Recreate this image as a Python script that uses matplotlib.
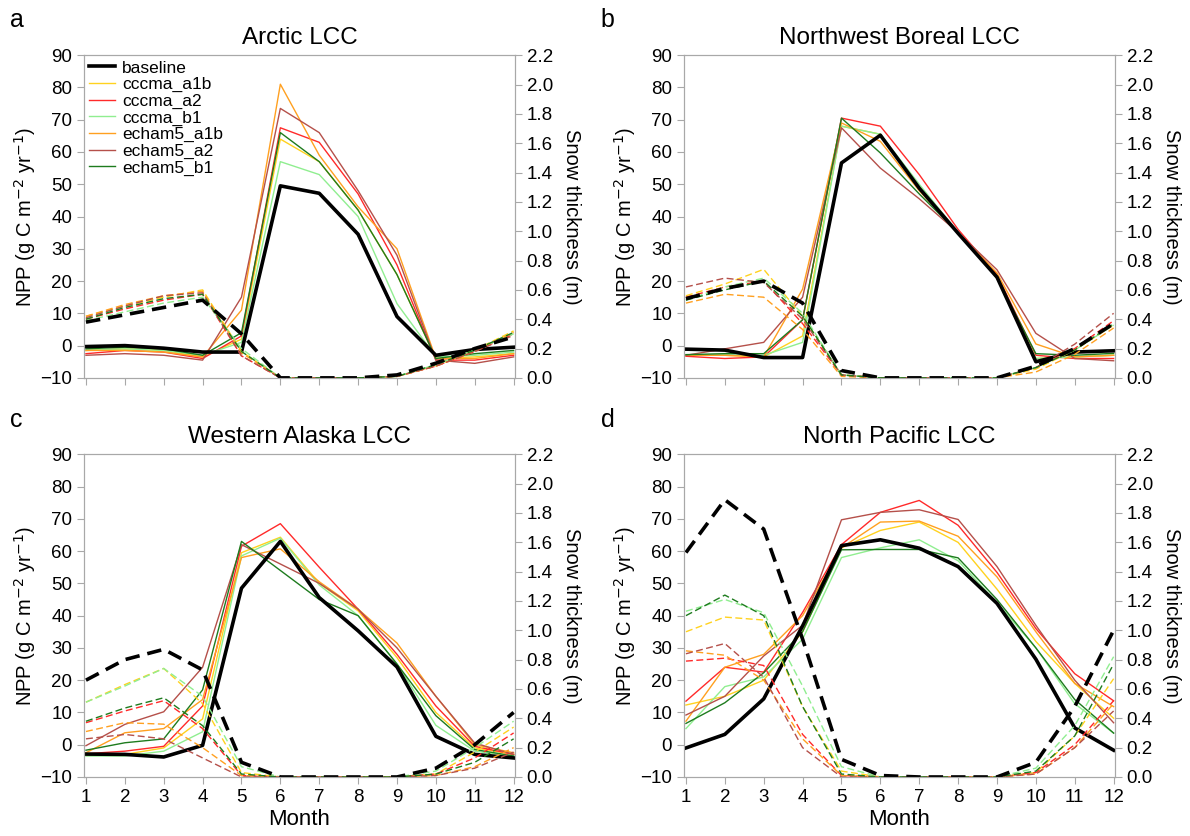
import matplotlib
matplotlib.use('Agg')
import matplotlib.pyplot as plt

plt.rcParams['font.family'] = ['Liberation Sans', 'DejaVu Sans']

months = list(range(1, 13))
scenarios = ['baseline', 'cccma_a1b', 'cccma_a2', 'cccma_b1', 'echam5_a1b', 'echam5_a2', 'echam5_b1']
colors = {'baseline': 'black', 'cccma_a1b': '#FFD21F', 'cccma_a2': '#FF2A2A', 'cccma_b1': '#90EE90',
          'echam5_a1b': '#FFA020', 'echam5_a2': '#B5504A', 'echam5_b1': '#1E7B1E'}

# NPP (g C m-2 yr-1) and snow thickness (m) by month
arctic_npp = {
    'baseline':   [-0.3, 0.0, -0.8, -2.0, -2.0, 49.5, 47.2, 34.5, 9.0, -3.0, -1.2, -0.5],
    'cccma_a1b':  [-1.5, -1.0, -1.5, -3.5, 2.0, 64.0, 57.0, 42.0, 22.0, -4.0, -3.5, -2.5],
    'cccma_a2':   [-2.5, -1.5, -2.0, -4.0, 3.0, 67.5, 63.0, 47.0, 25.0, -4.5, -4.5, -3.0],
    'cccma_b1':   [-1.5, -1.0, -1.5, -3.0, 1.0, 57.0, 53.0, 40.0, 13.0, -3.5, -3.0, -2.0],
    'echam5_a1b': [-1.5, -1.5, -2.0, -3.5, 11.0, 81.0, 59.0, 43.0, 30.0, -4.0, -4.0, -2.5],
    'echam5_a2':  [-3.0, -2.5, -3.0, -4.5, 15.0, 73.5, 66.0, 48.0, 28.0, -4.5, -5.5, -3.5],
    'echam5_b1':  [-1.0, -0.5, -1.0, -3.0, 4.0, 66.0, 57.0, 42.0, 22.0, -4.0, -2.5, -1.5],
}
arctic_snow = {
    'baseline':   [0.38, 0.43, 0.48, 0.53, 0.30, 0.0, 0.0, 0.0, 0.02, 0.10, 0.20, 0.28],
    'cccma_a1b':  [0.42, 0.49, 0.55, 0.60, 0.18, 0.0, 0.0, 0.0, 0.01, 0.08, 0.19, 0.32],
    'cccma_a2':   [0.40, 0.47, 0.53, 0.57, 0.15, 0.0, 0.0, 0.0, 0.01, 0.08, 0.18, 0.30],
    'cccma_b1':   [0.39, 0.45, 0.51, 0.55, 0.20, 0.0, 0.0, 0.0, 0.01, 0.09, 0.19, 0.30],
    'echam5_a1b': [0.42, 0.50, 0.56, 0.59, 0.17, 0.0, 0.0, 0.0, 0.01, 0.08, 0.18, 0.31],
    'echam5_a2':  [0.41, 0.49, 0.56, 0.58, 0.15, 0.0, 0.0, 0.0, 0.01, 0.08, 0.18, 0.29],
    'echam5_b1':  [0.40, 0.48, 0.54, 0.57, 0.18, 0.0, 0.0, 0.0, 0.01, 0.09, 0.19, 0.31],
}

boreal_npp = {
    'baseline':   [-1.1, -1.4, -3.7, -3.7, 56.6, 65.2, 48.8, 34.8, 21.2, -5.0, -2.0, -1.6],
    'cccma_a1b':  [-3.0, -3.0, -3.5, 3.0, 68.0, 65.5, 49.0, 35.0, 21.5, -4.0, -3.5, -3.0],
    'cccma_a2':   [-3.3, -4.0, -3.5, 8.0, 70.5, 68.0, 53.0, 36.0, 22.0, -3.0, -4.0, -4.0],
    'cccma_b1':   [-3.0, -3.0, -3.0, 1.0, 68.0, 65.5, 50.0, 35.0, 21.5, -4.0, -3.5, -3.0],
    'echam5_a1b': [-3.0, -3.0, -3.5, 17.5, 69.0, 63.3, 48.0, 35.0, 22.5, 0.5, -3.5, -3.0],
    'echam5_a2':  [-3.0, -1.0, 1.0, 15.0, 67.5, 55.0, 45.5, 35.0, 23.5, 3.8, -4.0, -4.7],
    'echam5_b1':  [-2.8, -2.5, -2.5, 8.0, 70.5, 59.7, 47.0, 35.0, 21.0, -2.5, -3.0, -2.4],
}
boreal_snow = {
    'baseline':   [0.54, 0.61, 0.66, 0.51, 0.05, 0.0, 0.0, 0.0, 0.0, 0.08, 0.20, 0.37],
    'cccma_a1b':  [0.56, 0.64, 0.74, 0.42, 0.02, 0.0, 0.0, 0.0, 0.0, 0.06, 0.19, 0.36],
    'cccma_a2':   [0.55, 0.62, 0.66, 0.37, 0.02, 0.0, 0.0, 0.0, 0.0, 0.07, 0.20, 0.39],
    'cccma_b1':   [0.53, 0.62, 0.68, 0.44, 0.02, 0.0, 0.0, 0.0, 0.0, 0.07, 0.19, 0.36],
    'echam5_a1b': [0.51, 0.57, 0.55, 0.33, 0.01, 0.0, 0.0, 0.0, 0.0, 0.04, 0.16, 0.34],
    'echam5_a2':  [0.62, 0.68, 0.65, 0.40, 0.02, 0.0, 0.0, 0.0, 0.0, 0.07, 0.23, 0.44],
    'echam5_b1':  [0.53, 0.60, 0.66, 0.42, 0.02, 0.0, 0.0, 0.0, 0.0, 0.07, 0.19, 0.37],
}

walaska_npp = {
    'baseline':   [-2.9, -3.0, -3.8, -0.2, 48.5, 63.0, 45.6, 35.3, 24.1, 2.6, -3.0, -4.1],
    'cccma_a1b':  [-3.3, -3.0, -1.0, 8.0, 59.5, 64.3, 50.0, 41.5, 27.0, 10.0, -1.0, -3.0],
    'cccma_a2':   [-2.8, -2.0, -0.5, 12.0, 61.5, 68.5, 55.0, 42.0, 28.0, 12.0, -0.5, -3.0],
    'cccma_b1':   [-3.5, -3.5, -2.0, 4.0, 58.5, 64.0, 49.5, 40.0, 25.0, 6.0, -2.0, -3.5],
    'echam5_a1b': [-2.5, 3.7, 5.0, 14.0, 58.0, 60.7, 50.5, 42.0, 31.5, 15.0, 0.0, -2.5],
    'echam5_a2':  [-0.3, 6.3, 10.2, 24.0, 62.0, 56.0, 50.0, 42.0, 30.0, 15.0, 0.5, -3.0],
    'echam5_b1':  [-1.7, 0.6, 1.8, 17.0, 63.0, 54.0, 45.0, 40.0, 25.0, 9.0, -1.5, -3.5],
}
walaska_snow = {
    'baseline':   [0.66, 0.80, 0.87, 0.73, 0.10, 0.0, 0.0, 0.0, 0.0, 0.06, 0.22, 0.44],
    'cccma_a1b':  [0.51, 0.63, 0.74, 0.50, 0.03, 0.0, 0.0, 0.0, 0.0, 0.02, 0.17, 0.34],
    'cccma_a2':   [0.37, 0.45, 0.52, 0.33, 0.01, 0.0, 0.0, 0.0, 0.0, 0.02, 0.13, 0.30],
    'cccma_b1':   [0.51, 0.62, 0.74, 0.55, 0.07, 0.0, 0.0, 0.0, 0.0, 0.04, 0.20, 0.38],
    'echam5_a1b': [0.31, 0.37, 0.36, 0.20, 0.01, 0.0, 0.0, 0.0, 0.0, 0.01, 0.07, 0.20],
    'echam5_a2':  [0.26, 0.29, 0.26, 0.13, 0.0, 0.0, 0.0, 0.0, 0.0, 0.01, 0.06, 0.17],
    'echam5_b1':  [0.38, 0.47, 0.54, 0.35, 0.02, 0.0, 0.0, 0.0, 0.0, 0.02, 0.10, 0.26],
}

npacific_npp = {
    'baseline':   [-1.0, 3.2, 14.2, 36.8, 61.7, 63.5, 60.9, 55.2, 43.8, 26.5, 5.2, -1.7],
    'cccma_a1b':  [12.3, 15.0, 20.0, 35.0, 61.0, 66.4, 69.0, 62.7, 48.2, 32.0, 19.0, 8.2],
    'cccma_a2':   [13.5, 24.0, 22.5, 41.0, 62.0, 72.0, 75.7, 68.0, 53.4, 36.0, 22.0, 13.6],
    'cccma_b1':   [5.0, 18.0, 21.0, 32.7, 58.0, 61.0, 63.5, 57.0, 44.0, 30.0, 12.7, 3.6],
    'echam5_a1b': [7.3, 24.0, 28.0, 40.0, 61.0, 69.0, 69.3, 64.6, 52.0, 35.0, 19.0, 11.8],
    'echam5_a2':  [9.2, 15.0, 27.5, 37.0, 69.7, 72.0, 72.8, 69.8, 55.2, 37.0, 20.0, 6.8],
    'echam5_b1':  [6.6, 13.0, 22.3, 35.0, 60.4, 60.5, 60.5, 57.9, 45.0, 30.0, 14.0, 3.6],
}
npacific_snow = {
    'baseline':   [1.53, 1.89, 1.69, 0.94, 0.12, 0.01, 0.0, 0.0, 0.0, 0.10, 0.48, 1.00],
    'cccma_a1b':  [0.99, 1.09, 1.07, 0.48, 0.04, 0.0, 0.0, 0.0, 0.0, 0.03, 0.28, 0.67],
    'cccma_a2':   [0.79, 0.81, 0.76, 0.29, 0.01, 0.0, 0.0, 0.0, 0.0, 0.03, 0.22, 0.52],
    'cccma_b1':   [1.13, 1.21, 1.12, 0.62, 0.07, 0.0, 0.0, 0.0, 0.0, 0.06, 0.35, 0.82],
    'echam5_a1b': [0.86, 0.83, 0.66, 0.26, 0.01, 0.0, 0.0, 0.0, 0.0, 0.02, 0.20, 0.50],
    'echam5_a2':  [0.84, 0.91, 0.68, 0.20, 0.0, 0.0, 0.0, 0.0, 0.0, 0.02, 0.20, 0.45],
    'echam5_b1':  [1.10, 1.24, 1.10, 0.48, 0.02, 0.0, 0.0, 0.0, 0.0, 0.04, 0.28, 0.77],
}

panels = [
    ('a', 'Arctic LCC', arctic_npp, arctic_snow),
    ('b', 'Northwest Boreal LCC', boreal_npp, boreal_snow),
    ('c', 'Western Alaska LCC', walaska_npp, walaska_snow),
    ('d', 'North Pacific LCC', npacific_npp, npacific_snow),
]
positions = [(0.0706, 0.548), (0.5748, 0.548), (0.0706, 0.0706), (0.5748, 0.0706)]
letter_pos = [(0.008, 0.976), (0.505, 0.976), (0.008, 0.498), (0.505, 0.498)]

grey = '#A8A8A8'
fig = plt.figure(figsize=(11.9, 8.36), dpi=100)

for i, (letter, title, npp, snow) in enumerate(panels):
    left, bottom = positions[i]
    ax = fig.add_axes([left, bottom, 0.362, 0.386])
    ax2 = ax.twinx()
    order = scenarios[1:] + ['baseline']
    for s in order:
        lw = 2.6 if s == 'baseline' else 1.0
        ax.plot(months, npp[s], color=colors[s], lw=lw, label=s, zorder=3 if s == 'baseline' else 2)
    for s in order:
        lw = 2.6 if s == 'baseline' else 1.0
        dash = (4, 2.2) if s == 'baseline' else (5, 2.5)
        ax2.plot(months, snow[s], color=colors[s], lw=lw, linestyle=(0, dash))

    ax.set_xlim(0.95, 12.03)
    ax.set_ylim(-10, 90)
    ax.set_yticks(range(-10, 91, 10))
    ax2.set_ylim(0, 2.2)
    ax2.set_yticks([0.0, 0.2, 0.4, 0.6, 0.8, 1.0, 1.2, 1.4, 1.6, 1.8, 2.0, 2.2])
    ax2.set_yticklabels(['%.1f' % v for v in ax2.get_yticks()])
    ax.set_xticks(months)
    for a in (ax, ax2):
        for sp in a.spines.values():
            sp.set_color(grey)
        a.tick_params(colors=grey, labelcolor='black', labelsize=13.5, length=5, direction='out')
    if i < 2:
        ax.set_xticklabels([])
    else:
        ax.set_xlabel('Month', fontsize=16, labelpad=2)
    ax.set_ylabel('NPP (g C m$^{-2}$ yr$^{-1}$)', fontsize=14.5, labelpad=2)
    ax2.set_ylabel('Snow thickness (m)', fontsize=14.5, rotation=270, labelpad=20)
    ax.set_title(title, fontsize=17.5, pad=8)
    fig.text(letter_pos[i][0], letter_pos[i][1], letter, fontsize=18, va='center')

    if i == 0:
        handles, labels = ax.get_legend_handles_labels()
        idx = [labels.index(s) for s in scenarios]
        ax.legend([handles[k] for k in idx], [labels[k] for k in idx], loc='upper left',
                  frameon=False, fontsize=12.5, handlelength=1.5, labelspacing=0.08,
                  borderaxespad=0.0, borderpad=0.3, handletextpad=0.4)

fig.savefig('out.png', dpi=100)
